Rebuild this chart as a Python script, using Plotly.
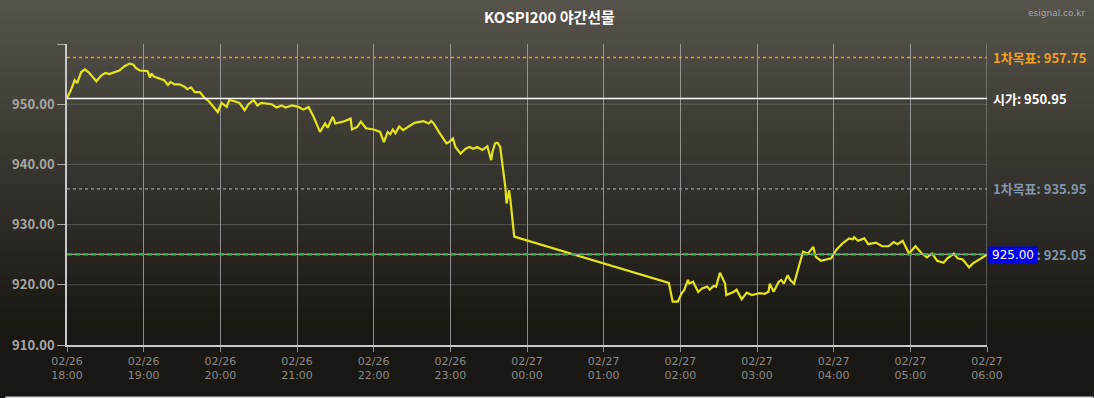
import plotly.graph_objects as go

# ---- data (minutes since 02/26 18:00, price) ----
minutes = [0, 3, 6, 8, 11, 14, 17, 20, 23, 27, 30, 33, 37, 41, 45, 49, 52, 54, 57, 61,
           63, 65, 66, 68, 72, 76, 79, 81, 84, 88, 92, 94, 97, 100, 104, 107, 111, 115, 118, 120,
           121, 125, 127, 131, 135, 139, 142, 146, 149, 152, 160, 164, 168, 171, 176, 181, 185, 189, 193, 198,
           202, 204, 208, 210, 216, 222, 223, 227, 230, 234, 240, 245, 248, 251, 253, 255, 257, 260, 263, 269,
           272, 279, 283, 285, 287, 291, 297, 299, 302, 304, 308, 312, 315, 318, 321, 325, 329, 332, 333, 335,
           337, 339, 340, 343, 344, 346, 347, 350, 471, 474, 478, 481, 483, 486, 487, 490, 494, 497, 501, 503,
           506, 508, 511, 515, 516, 522, 524, 528, 532, 536, 542, 546, 549, 550, 553, 557, 559, 561, 564, 566,
           569, 573, 576, 580, 584, 586, 590, 598, 602, 607, 612, 615, 616, 619, 624, 627, 633, 638, 643, 647,
           650, 654, 659, 664, 669, 673, 677, 681, 686, 689, 694, 697, 701, 706, 709, 720]
prices = [951.05, 952.3, 954.0, 953.5, 955.3, 955.8, 955.3, 954.5, 953.8, 954.8, 955.2, 955.0, 955.3, 955.6, 956.3, 956.75, 956.55, 956.0, 955.6, 955.6,
          955.5, 954.4, 955.1, 954.6, 954.3, 954.0, 953.2, 953.7, 953.3, 953.3, 952.9, 952.5, 952.8, 952.0, 952.0, 951.2, 950.5, 949.5, 948.7, 949.7,
          950.2, 949.55, 950.7, 950.5, 950.2, 949.0, 950.0, 950.7, 949.8, 950.2, 950.0, 949.45, 949.8, 949.45, 949.8, 949.55, 949.1, 949.55, 947.9, 945.4,
          946.8, 946.1, 947.9, 946.8, 947.1, 947.6, 945.8, 946.2, 947.1, 946.0, 945.8, 945.4, 943.7, 945.4, 945.0, 945.8, 945.2, 946.3, 945.7, 946.5,
          946.9, 947.2, 946.8, 947.2, 946.8, 945.4, 943.5, 943.7, 944.3, 942.9, 941.8, 942.6, 942.9, 942.6, 942.9, 942.4, 943.0, 940.7, 942.1, 943.5,
          943.6, 942.9, 941.3, 936.3, 933.5, 935.7, 934.1, 928.0, 920.3, 917.2, 917.2, 918.6, 919.1, 920.8, 920.2, 920.5, 918.8, 919.4, 919.7, 919.2,
          919.8, 919.7, 922.0, 920.2, 918.3, 918.85, 919.2, 917.6, 918.7, 918.3, 918.6, 918.5, 918.85, 920.2, 918.85, 920.5, 920.8, 920.2, 921.6, 920.8,
          920.2, 923.0, 925.5, 925.2, 926.3, 924.65, 924.0, 924.4, 925.8, 926.9, 927.7, 927.55, 927.9, 927.3, 927.7, 926.75, 927.0, 926.4, 926.4, 927.1,
          926.75, 927.3, 925.2, 926.4, 925.2, 924.55, 925.2, 924.0, 923.65, 924.4, 925.2, 924.4, 924.2, 922.9, 923.55, 925.0]

tick_minutes = [0, 60, 120, 180, 240, 300, 360, 420, 480, 540, 600, 660, 720]
tick_labels = ["02/26<br>18:00", "02/26<br>19:00", "02/26<br>20:00", "02/26<br>21:00", "02/26<br>22:00",
               "02/26<br>23:00", "02/27<br>00:00", "02/27<br>01:00", "02/27<br>02:00", "02/27<br>03:00",
               "02/27<br>04:00", "02/27<br>05:00", "02/27<br>06:00"]
y_ticks = [910, 920, 930, 940, 950, 960]
y_tick_labels = ["910.00", "920.00", "930.00", "940.00", "950.00", ""]
grid_levels = [920, 930, 940, 950]

level_names = ["1차목표", "시가", "1차목표", "2차목표"]
level_values = [957.75, 950.95, 935.95, 925.05]
level_label_colors = ["#f0a020", "#ffffff", "#8296ad", "#8296ad"]
last_price = 925.00

W, H = 1094, 398
ML, MR, MT, MB = 62, 107, 44, 53
PW, PH = W - ML - MR, H - MT - MB

fig = go.Figure()
fig.add_trace(go.Scatter(x=minutes, y=prices, mode="lines",
                         line=dict(color="#e4e31c", width=2.2), hoverinfo="skip"))

shapes = []
# gradient background bands (overlapping slightly to avoid seams)
top = (86, 83, 75)
bot = (25, 23, 19)
n = 60
grad_end = 330
for i in range(n):
    p0 = i * grad_end / n
    p1 = (i + 1) * grad_end / n + 2
    t = (i + 0.5) / n
    c = tuple(int(round(top[k] + (bot[k] - top[k]) * t)) for k in range(3))
    shapes.append(dict(type="rect", xref="paper", yref="paper", layer="below",
                       x0=-ML / PW - 0.01, x1=1 + MR / PW + 0.01,
                       y0=1 + (MT - p1) / PH, y1=1 + (MT - p0 + (2 if i == 0 else 0)) / PH,
                       fillcolor="rgb(%d,%d,%d)" % c, line=dict(width=0)))
# bottom light border of the image
shapes.append(dict(type="rect", xref="paper", yref="paper", layer="below",
                   x0=-ML / PW, x1=1 + MR / PW, y0=-(MB) / PH, y1=-(MB - 1.5) / PH,
                   fillcolor="#d8d8d8", line=dict(width=0)))
# horizontal grid
for g in grid_levels:
    shapes.append(dict(type="line", xref="paper", yref="y", x0=0, x1=1, y0=g, y1=g,
                       layer="below", line=dict(color="rgba(120,120,120,0.55)", width=1)))
# right border grid at 06:00
shapes.append(dict(type="line", xref="x", yref="paper", x0=720, x1=720, y0=0, y1=1,
                   layer="below", line=dict(color="rgba(170,170,170,0.8)", width=1)))
# level lines
shapes.append(dict(type="line", xref="paper", yref="y", x0=0, x1=1, y0=level_values[0], y1=level_values[0],
                   line=dict(color="#f29a10", width=1.6, dash="dot")))
shapes.append(dict(type="line", xref="paper", yref="y", x0=0, x1=1, y0=level_values[1], y1=level_values[1],
                   line=dict(color="#ffffff", width=1.5)))
shapes.append(dict(type="line", xref="paper", yref="y", x0=0, x1=1, y0=level_values[2], y1=level_values[2],
                   line=dict(color="#a0a0a0", width=1.2, dash="dot")))
shapes.append(dict(type="line", xref="paper", yref="y", x0=0, x1=1, y0=level_values[3], y1=level_values[3],
                   line=dict(color="#9aa89a", width=1.2)))
shapes.append(dict(type="line", xref="paper", yref="y", x0=0, x1=1, y0=level_values[3], y1=level_values[3],
                   line=dict(color="#3fb24a", width=2.2, dash="5px,3px")))

annotations = []
for name, val, col in zip(level_names, level_values, level_label_colors):
    annotations.append(dict(xref="paper", yref="y", x=1, y=val, xanchor="left", yanchor="middle",
                            xshift=4, showarrow=False, text="%s: %.2f" % (name, val),
                            font=dict(family="Noto Sans CJK KR", size=13, color=col, weight="bold")))
annotations.append(dict(xref="paper", yref="y", x=1, y=last_price, xanchor="left", yanchor="middle",
                        xshift=1, showarrow=False, text="%.2f" % last_price, bgcolor="#0000e8",
                        borderpad=1, width=46,
                        font=dict(family="DejaVu Sans", size=12, color="#ffffff")))
annotations.append(dict(xref="paper", yref="paper", x=(W / 2 - ML) / PW, y=1 + (MT - 17) / PH,
                        xanchor="center", yanchor="middle", showarrow=False, text="KOSPI200 야간선물",
                        font=dict(family="Noto Sans CJK KR", size=15, color="#ffffff", weight="bold")))
annotations.append(dict(xref="paper", yref="paper", x=1 + (MR - 6) / PW, y=1 + (MT - 13) / PH,
                        xanchor="right", yanchor="middle", showarrow=False, text="esignal.co.kr",
                        font=dict(family="DejaVu Sans", size=9, color="#a8a69e")))

fig.update_layout(
    width=W, height=H,
    margin=dict(l=ML, r=MR, t=MT, b=MB, pad=0),
    paper_bgcolor="#1a1814", plot_bgcolor="rgba(0,0,0,0)",
    showlegend=False,
    shapes=shapes, annotations=annotations,
    xaxis=dict(range=[0, 720], tickvals=tick_minutes, ticktext=tick_labels,
               showgrid=True, gridcolor="rgba(170,170,170,0.8)", gridwidth=1,
               ticks="outside", ticklen=5, tickcolor="rgba(170,170,170,0.8)",
               showline=True, linecolor="#c8c8c8", linewidth=1.5, zeroline=False,
               tickfont=dict(family="DejaVu Sans", size=11, color="#8a8a86")),
    yaxis=dict(range=[910, 960], tickvals=y_ticks, ticktext=y_tick_labels,
               showgrid=False, ticks="outside", ticklen=8, tickcolor="#aaaaaa",
               showline=True, linecolor="#c8c8c8", linewidth=1.5, zeroline=False,
               tickfont=dict(family="Noto Sans CJK KR", size=13, color="#a8a8a4", weight="bold")),
)

fig.write_html("out.html", config={"displayModeBar": False},
               post_script="document.body.style.margin='0';document.body.style.overflow='hidden';")
